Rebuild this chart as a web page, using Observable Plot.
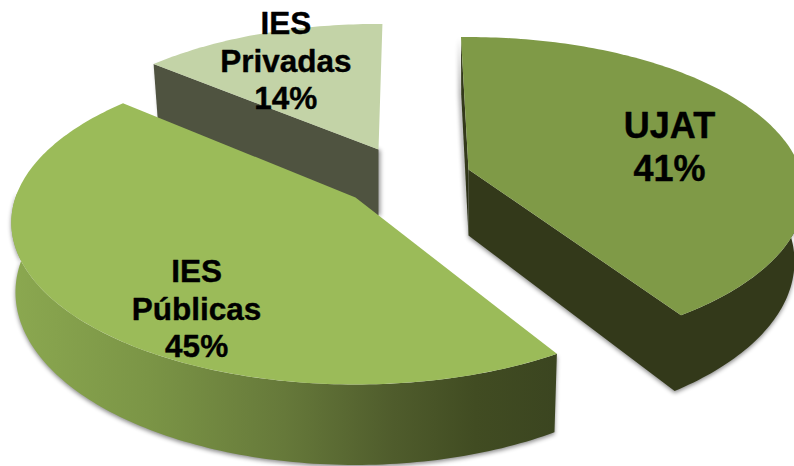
<!DOCTYPE html>
<html>
<head>
<meta charset="utf-8">
<style>html,body{margin:0;padding:0;background:#fff;overflow:hidden}svg{display:block}</style>
<script src="https://cdn.jsdelivr.net/npm/d3@7"></script>
<script src="https://cdn.jsdelivr.net/npm/@observablehq/plot@0.6"></script>
</head>
<body>
<div id="chart"></div>
<script>
const categories = ["UJAT", "IES\nPúblicas", "IES\nPrivadas"];
const values = [41, 45, 14];
const units = "%";

// Exploded 3D disc layout for each slice (not data)
const layout = [
  {cx: 468, cy: 169, a: 332, b: 153, rot: -1.5, depth: 66, shrink: 0.97, fs: 36, lr: 0.64, la: 3.4},
  {cx: 355, cy: 197, a: 340, b: 158, rot: 1.5, depth: 68, shrink: 0.988, fs: 31.5, lr: 0.758, la: -16.3},
  {cx: 378, cy: 149, a: 325, b: 145, rot: 0.8, depth: 66, shrink: 0.98, fs: 31.5, lr: 0.755, la: -0.3}
];
const k = 0.155;

function project(s, deg, r = 1, h = 0) {
  const t = deg * Math.PI / 180;
  const u = r * Math.sin(t), v = -r * Math.cos(t);
  const w = 1 / (1 - k * v);
  return {
    x: s.cx + s.a * u * w * (1 - (1 - s.shrink) * h),
    y: s.cy + s.b * v * w + s.depth * h * w
  };
}
function arc(s, from, to, h = 0) {
  const n = Math.max(2, Math.ceil(Math.abs(to - from)));
  return d3.range(n + 1).map(i => project(s, from + (to - from) * i / n, 1, h));
}

let cum = 0;
const slices = values.map((v, i) => {
  const s = layout[i];
  const start = cum * 3.6 + s.rot, end = (cum + v) * 3.6 + s.rot;
  cum += v;
  return {...s, start, end, name: categories[i], value: v,
          mid: (start + end) / 2};
});
const [ujat, pub, priv] = slices;

const topFace = s => [project(s, 0, 0), ...arc(s, s.start, s.end)];
const radialWall = (s, deg) => [project(s, 0, 0), project(s, deg), project(s, deg, 1, 1), project(s, 0, 0, 1)];
const outerWall = (s, from, to) => [...arc(s, from, to), ...arc(s, to, from, 1)];
const sideBody = (s, from, to) => [project(s, 0, 0), project(s, 0, 0, 1), ...arc(s, to, from, 1), ...arc(s, from, to)];

const shadow = "drop-shadow(0px 2px 2px rgba(0,0,0,0.45))";
const poly = (pts, fill, extra = {}) =>
  Plot.line(pts, {x: "x", y: "y", fill, stroke: "none", curve: "linear", ...extra});

const defs = () => {
  const d = d3.create("svg:defs");
  const g = d.append("linearGradient").attr("id", "pubWall")
    .attr("x1", 0).attr("x2", 1).attr("y1", 0).attr("y2", 0);
  [[0, "#8ba850"], [0.25, "#7b9546"], [0.5, "#66793a"], [0.7, "#4f5c2c"], [0.85, "#414c22"], [1, "#3b4520"]]
    .forEach(([o, c]) => g.append("stop").attr("offset", o).attr("stop-color", c));
  return d.node();
};

const labels = slices.map(s => {
  const p = project(s, s.mid + s.la, s.lr);
  return {x: p.x, y: p.y, text: `${s.name}\n${s.value}${units}`, fs: s.fs};
});

const textMark = l => Plot.text([l], {
  x: "x", y: "y", text: "text", fontSize: l.fs, fontWeight: "bold",
  fontFamily: "Liberation Sans, Arial, sans-serif", fill: "#000", stroke: "#000", strokeWidth: 0.4,
  lineHeight: 1.19, textAnchor: "middle"
});

const chart = Plot.plot({
  width: 794, height: 466, margin: 0,
  x: {domain: [0, 794], range: [0, 794], axis: null},
  y: {domain: [0, 466], range: [0, 466], axis: null},
  style: {background: "#fff"},
  marks: [
    defs,
    // IES Privadas
    poly(radialWall(priv, priv.start), "#4f5340", {imageFilter: "drop-shadow(2px 1px 2px rgba(0,0,0,0.4))"}),
    poly(topFace(priv), "#c3d3a7"),
    // UJAT
    poly(radialWall(ujat, ujat.start), "#33391a", {imageFilter: "drop-shadow(-2px 0px 2px rgba(0,0,0,0.45))"}),
    poly(sideBody(ujat, 90, ujat.end), "#33391a", {imageFilter: shadow}),
    poly(topFace(ujat), "#7f9a47"),
    // IES Públicas
    poly(outerWall(pub, pub.start, 272), "url(#pubWall)", {imageFilter: shadow}),
    poly(topFace(pub), "#9bbb59"),
    ...labels.map(textMark)
  ]
});
document.getElementById("chart").append(chart);
</script>
</body>
</html>
